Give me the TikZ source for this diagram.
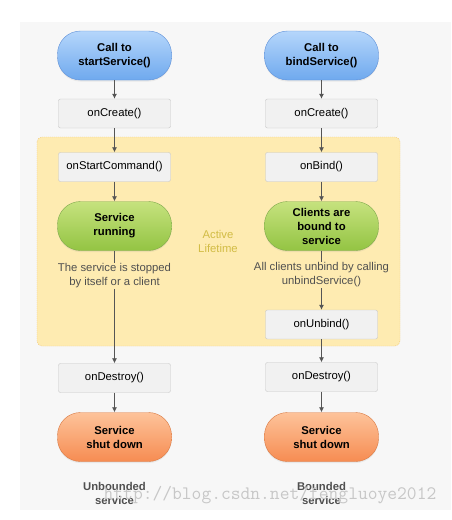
\documentclass[tikz,border=0pt]{standalone}
\usepackage{fontspec}
\setmainfont{Liberation Sans}
\usetikzlibrary{arrows.meta,shadows}

\definecolor{bleuhaut}{HTML}{B5D6FB}
\definecolor{bleubas}{HTML}{6FA9EE}
\definecolor{bleubord}{HTML}{5E90D8}
\definecolor{verthaut}{HTML}{C6E27E}
\definecolor{vertbas}{HTML}{93C443}
\definecolor{vertbord}{HTML}{7FA94C}
\definecolor{orangehaut}{HTML}{FDC39A}
\definecolor{orangebas}{HTML}{F68C52}
\definecolor{orangebord}{HTML}{DA7A43}
\definecolor{grisfond}{HTML}{F1F1F1}
\definecolor{grisbord}{HTML}{C6C6C6}
\definecolor{panneau}{HTML}{F7F7F7}
\definecolor{jaunefond}{HTML}{FEEBB1}
\definecolor{jaunebord}{HTML}{F0C26E}
\definecolor{jaunetexte}{HTML}{D2BC45}
\definecolor{fleche}{HTML}{555555}
\definecolor{textegris}{HTML}{505050}

\begin{document}
\begin{tikzpicture}[x=1pt, y=-1pt,
    every node/.style={font=\fontsize{11.3}{14}\selectfont},
    etat/.style={draw=grisbord, fill=grisfond, rounded corners=2pt,
        minimum width=112pt, minimum height=29pt, inner sep=0pt},
    pilule/.style={rounded corners=23pt, minimum width=114pt, minimum height=49pt,
        inner sep=0pt, align=center, font=\fontsize{11.3}{14}\selectfont\bfseries,
        drop shadow={opacity=0.12, shadow xshift=0pt, shadow yshift=-1.5pt}},
    debut/.style={pilule, draw=bleubord, top color=bleuhaut, bottom color=bleubas},
    actif/.style={pilule, draw=vertbord, top color=verthaut, bottom color=vertbas},
    fin/.style={pilule, draw=orangebord, top color=orangehaut, bottom color=orangebas},
    note/.style={text=textegris, align=center, inner sep=1pt},
    pas/.style={draw=fleche, thick, -{Latex[length=5pt, width=5pt]}},
    trait/.style={draw=fleche, thick}]
    % Cadre de l'image
    \useasboundingbox (0,0) rectangle (451,520);
    \fill[panneau] (20,22) rectangle (451,510);

    % Zone de la durée de vie active
    \draw[jaunebord, fill=jaunefond, rounded corners=5pt, dash pattern=on 1pt off 1pt]
        (37,137) rectangle (400,346);
    \node[text=jaunetexte, align=center] (vie) at (218,241) {Active\\Lifetime};

    % Colonne de gauche : service démarré
    \node[debut] (appel1) at (114.5,55.5) {Call to\\startService()};
    \node[etat] (creer1) at (114.5,113.5) {onCreate()};
    \node[etat] (commande) at (114.5,167) {onStartCommand()};
    \node[actif] (marche) at (114.5,226) {Service\\running};
    \node[note] (arret) at (114.5,276) {The service is stopped\\by itself or a client};
    \node[etat] (detruire1) at (114.5,378) {onDestroy()};
    \node[fin] (fin1) at (114.5,437) {Service\\shut down};
    \node[text=textegris, align=center, font=\fontsize{11.3}{14}\selectfont\bfseries]
        (type1) at (114.5,493) {Unbounded\\service};

    % Colonne de droite : service lié
    \node[debut] (appel2) at (321.5,55.5) {Call to\\bindService()};
    \node[etat] (creer2) at (321.5,113.5) {onCreate()};
    \node[etat] (lier) at (321.5,167) {onBind()};
    \node[actif] (clients) at (321.5,226) {Clients are\\bound to\\service};
    \node[note] (delier) at (321.5,275) {All clients unbind by calling\\unbindService()};
    \node[etat] (surdelier) at (321.5,324.5) {onUnbind()};
    \node[etat] (detruire2) at (321.5,377) {onDestroy()};
    \node[fin] (fin2) at (321.5,437) {Service\\shut down};
    \node[text=textegris, align=center, font=\fontsize{11.3}{14}\selectfont\bfseries]
        (type2) at (321.5,493) {Bounded\\service};

    % Flèches
    \draw[pas] (appel1) -- (creer1);
    \draw[pas] (creer1) -- (commande);
    \draw[pas] (commande) -- (marche);
    \draw[trait] (marche) -- (arret);
    \draw[pas] (arret) -- (detruire1);
    \draw[pas] (detruire1) -- (fin1);
    \draw[pas] (appel2) -- (creer2);
    \draw[pas] (creer2) -- (lier);
    \draw[pas] (lier) -- (clients);
    \draw[trait] (clients) -- (delier);
    \draw[pas] (delier) -- (surdelier);
    \draw[pas] (surdelier) -- (detruire2);
    \draw[pas] (detruire2) -- (fin2);

    % Filigrane
    \node[text=black!22, font=\fontsize{19}{20}\selectfont\ttfamily] (filigrane)
        at (270,495) {http://blog.csdn.net/fengluoye2012};
\end{tikzpicture}
\end{document}
